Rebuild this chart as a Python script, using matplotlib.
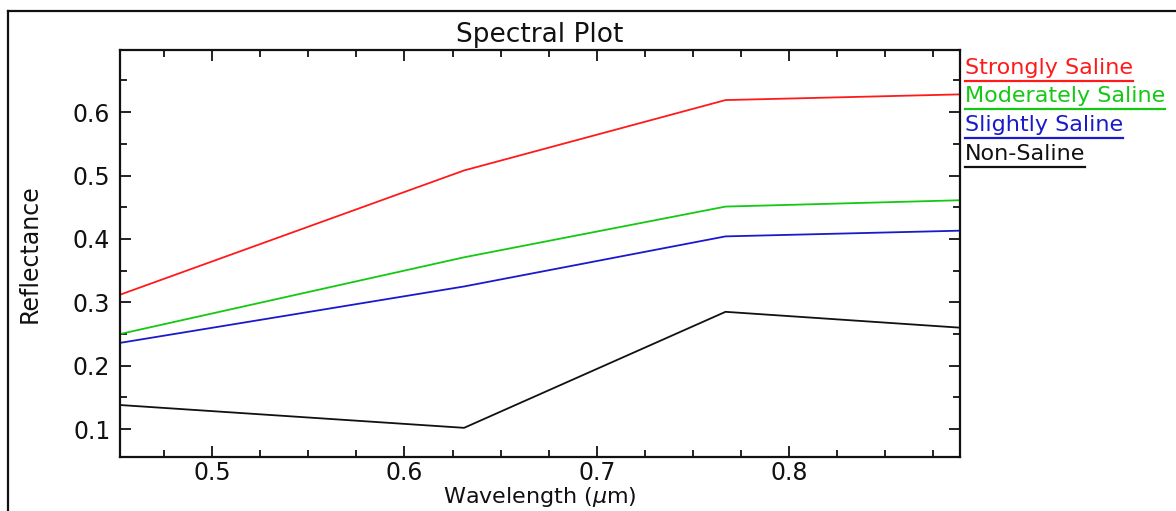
import matplotlib
matplotlib.use("Agg")
import matplotlib.pyplot as plt
from matplotlib.lines import Line2D
from matplotlib.ticker import MultipleLocator, FormatStrFormatter

# Wavelength (um) and reflectance
wavelength = [0.452, 0.631, 0.767, 0.889]
strongly = [0.312, 0.508, 0.619, 0.628]
moderately = [0.250, 0.371, 0.451, 0.461]
slightly = [0.236, 0.325, 0.404, 0.413]
non_saline = [0.138, 0.102, 0.285, 0.260]

series_names = ["Strongly Saline", "Moderately Saline", "Slightly Saline", "Non-Saline"]
series_values = [strongly, moderately, slightly, non_saline]
series_colors = ["#ff1a1a", "#14c814", "#1a1acc", "#111111"]

W, H = 1176, 511
fig = plt.figure(figsize=(W / 100, H / 100), dpi=100)
fig.patch.set_facecolor("white")

# axes box in pixel terms: x 120..960, y 50..457
ax = fig.add_axes([120 / W, 1 - 457 / H, 840 / W, 407 / H])

for vals, col in zip(series_values, series_colors):
    ax.plot(wavelength, vals, color=col, linewidth=1.3)

ax.set_xlim(wavelength[0], wavelength[-1])
ax.set_ylim(0.056, 0.698)

ax.xaxis.set_major_locator(MultipleLocator(0.1))
ax.xaxis.set_minor_locator(MultipleLocator(0.025))
ax.yaxis.set_major_locator(MultipleLocator(0.1))
ax.yaxis.set_minor_locator(MultipleLocator(0.05))
ax.xaxis.set_major_formatter(FormatStrFormatter("%.1f"))
ax.yaxis.set_major_formatter(FormatStrFormatter("%.1f"))

ax.tick_params(which="both", direction="in", top=True, right=True,
               width=1.3, colors="#111111", labelsize=17)
ax.tick_params(which="major", length=8, pad=7)
ax.tick_params(axis="x", which="major", pad=3)
ax.tick_params(which="minor", length=5)
for sp in ax.spines.values():
    sp.set_linewidth(1.6)
    sp.set_color("#111111")

ax.set_title("Spectral Plot", fontsize=19, pad=6, color="#111111")
ax.set_xlabel("Wavelength ($\\mu$m)", fontsize=16, labelpad=0, color="#111111")
ax.set_ylabel("Reflectance", fontsize=17, labelpad=22, color="#111111")

# legend: coloured underlined text to the right of the plot
renderer = fig.canvas.get_renderer()
y0 = 68
for i, (name, col) in enumerate(zip(series_names, series_colors)):
    yc = y0 + i * 28.5
    t = fig.text(965 / W, 1 - yc / H, name, color=col, fontsize=16,
                 ha="left", va="center")
    bb = t.get_window_extent(renderer)
    uy = 1 - (yc + 13) / H
    fig.add_artist(Line2D([965 / W, bb.x1 / W], [uy, uy], color=col,
                          linewidth=1.6, transform=fig.transFigure))

# outer window frame (top and left edges)
fig.add_artist(Line2D([8 / W, 1.0], [1 - 11 / H, 1 - 11 / H], color="#111111",
                      linewidth=1.6, transform=fig.transFigure))
fig.add_artist(Line2D([8 / W, 8 / W], [0.0, 1 - 11 / H], color="#111111",
                      linewidth=1.6, transform=fig.transFigure))

fig.savefig("out.png", dpi=100, facecolor="white")
